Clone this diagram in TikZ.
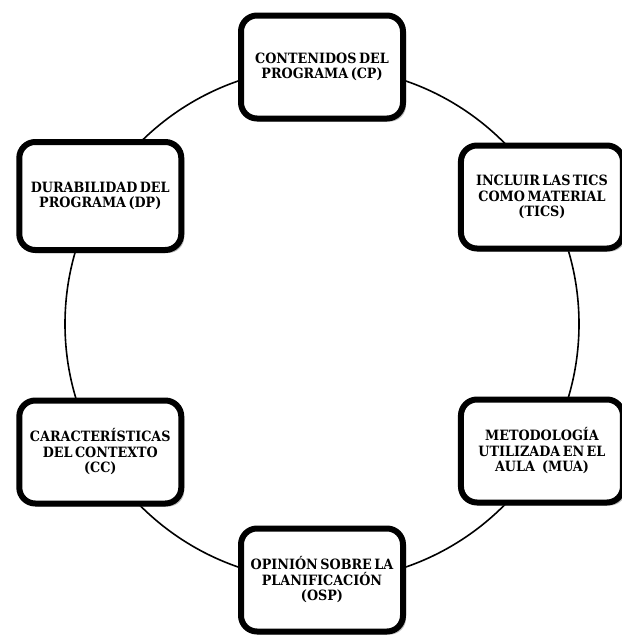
\documentclass[tikz,border=0pt]{standalone}
\usepackage{fontspec}
\setmainfont{DejaVu Serif Condensed}
\usepackage{tikz}
\usetikzlibrary{shadows, calc}
\newcommand{\cajafuente}{\fontsize{14.2pt}{15.5pt}\selectfont\bfseries\spaceskip=2.5pt plus 1pt\relax}

\tikzset{
    caja/.style={draw=black, line width=6pt, rounded corners=16pt, fill=white,
        minimum width=162pt, minimum height=103pt, align=center,
        font=\cajafuente,
        drop shadow={shadow xshift=3pt, shadow yshift=-3pt, fill=black!45, opacity=0.6}},
}

\begin{document}
\begin{tikzpicture}[x=1pt, y=1pt]
        \useasboundingbox (0,0) rectangle (621,-637);
        \coordinate (C) at (322,-324);
        \draw[line width=1.6pt] (C) circle[radius=257];

        \node[caja] (cp)   at ($(C)+(90:257)$)  {CONTENIDOS DEL\\PROGRAMA (CP)};
        \node[caja] (tics) at ($(C)+(30:254)$)  {INCLUIR LAS TICS\\COMO MATERIAL\\(TICS)};
        \node[caja] (mua)  at ($(C)+(-30:254)$) {METODOLOGÍA\\UTILIZADA EN EL\\AULA\enspace(MUA)};
        \node[caja] (osp)  at ($(C)+(-90:256)$) {OPINIÓN SOBRE LA\\PLANIFICACIÓN\\(OSP)};
        \node[caja] (cc)   at ($(C)+(210:256)$) {CARACTERÍSTICAS\\DEL CONTEXTO\\(CC)};
        \node[caja, minimum height=108pt] (dp) at ($(C)+(150:256)$) {DURABILIDAD DEL\\PROGRAMA (DP)};
    \end{tikzpicture}
\end{document}
